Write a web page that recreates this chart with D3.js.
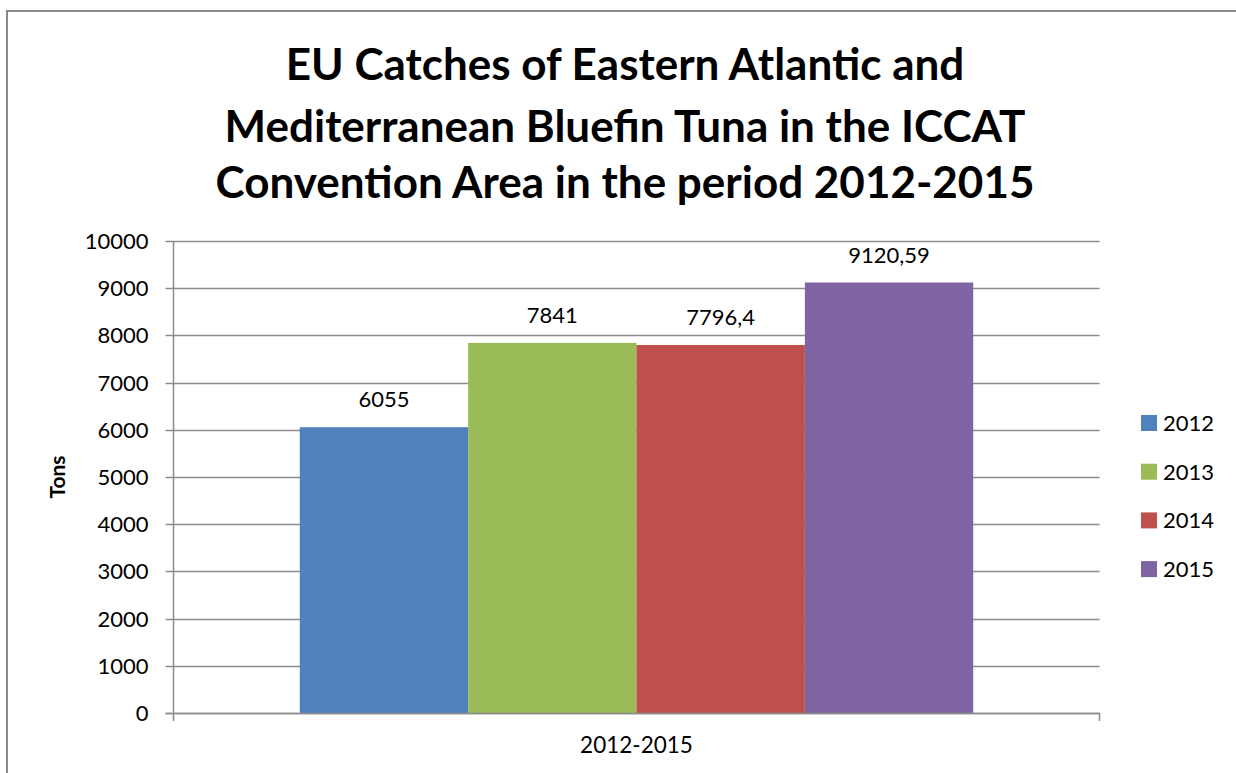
<!DOCTYPE html>
<html><head><meta charset="utf-8">
<script src="https://cdn.jsdelivr.net/npm/d3@7"></script>
<style>body{margin:0;background:#fff}svg{display:block}text{font-family:Lato,"Open Sans",sans-serif}</style>
</head><body><svg id="c" width="1236" height="773"></svg>
<script>
const categories = ["2012-2015"];
const seriesNames = ["2012", "2013", "2014", "2015"];
const seriesValues = [6055, 7841, 7796.4, 9120.59];
const valueLabels = ["6055", "7841", "7796,4", "9120,59"];
const seriesColors = ["#4F81BD", "#9BBB59", "#C0504D", "#8064A2"];
const yTicks = [0,1000,2000,3000,4000,5000,6000,7000,8000,9000,10000];
const titleLines = ["EU Catches of Eastern Atlantic and","Mediterranean Bluefin Tuna in the ICCAT","Convention Area in the period 2012-2015"];

const svg = d3.select("#c");
// outer border
svg.append("rect").attr("x",7).attr("y",11).attr("width",1236).attr("height",800)
  .attr("fill","none").attr("stroke","#8a8a8a").attr("stroke-width",2);

const L=173.5, R=1099.5, T=241, B=713;
const y = d3.scaleLinear().domain([0,10000]).range([B,T]);
const x0 = d3.scaleBand().domain(categories).range([L,R]).paddingInner(0).paddingOuter(0);
const x1 = d3.scaleBand().domain(seriesNames).range([0,x0.bandwidth()]).paddingOuter(0.75).paddingInner(0);

// gridlines
const g = svg.append("g");
g.selectAll("line.grid").data(yTicks).join("line")
  .attr("x1",L-8).attr("x2",R).attr("y1",d=>Math.round(y(d))+0.5).attr("y2",d=>Math.round(y(d))+0.5)
  .attr("stroke","#8c8c8c").attr("stroke-width",1.5);
// y axis line
svg.append("line").attr("x1",L).attr("x2",L).attr("y1",T).attr("y2",B+8).attr("stroke","#8c8c8c").attr("stroke-width",1.5);
svg.append("line").attr("x1",R).attr("x2",R).attr("y1",B).attr("y2",B+8).attr("stroke","#8c8c8c").attr("stroke-width",1.5);

// y tick labels
svg.selectAll("text.yt").data(yTicks).join("text")
  .attr("x",L-25).attr("y",d=>y(d)).attr("dy","0.36em").attr("text-anchor","end")
  .attr("font-size",22).attr("fill","#000").text(d=>d);

// bars
const bars = svg.append("g").attr("transform",`translate(${x0(categories[0])},0)`);
bars.selectAll("rect").data(seriesValues).join("rect")
  .attr("x",(d,i)=>x1(seriesNames[i])).attr("width",x1.bandwidth())
  .attr("y",d=>y(d)).attr("height",d=>B-y(d)).attr("fill",(d,i)=>seriesColors[i]);
bars.selectAll("text").data(seriesValues).join("text")
  .attr("x",(d,i)=>x1(seriesNames[i])+x1.bandwidth()/2).attr("y",d=>y(d)-20)
  .attr("text-anchor","middle").attr("font-size",22).attr("fill","#000")
  .text((d,i)=>valueLabels[i]);

// redraw baseline over bars
svg.append("line").attr("x1",L-8).attr("x2",R).attr("y1",B+0.5).attr("y2",B+0.5).attr("stroke","#8c8c8c").attr("stroke-width",1.5);

// category label
svg.append("text").attr("x",x0(categories[0])+x0.bandwidth()/2).attr("y",753).attr("text-anchor","middle")
  .attr("font-size",22.5).text(categories[0]);

// y title
svg.append("text").attr("transform","translate(65,477) rotate(-90)").attr("text-anchor","middle")
  .attr("font-size",21).attr("font-weight","bold").text("Tons");

// title
const titleY=[80,142,198];
titleLines.forEach((t,i)=>{
  svg.append("text").attr("x",625).attr("y",titleY[i]).attr("text-anchor","middle")
    .attr("font-size",44).attr("font-weight","bold").text(t);
});

// legend
const leg = svg.append("g");
seriesNames.forEach((n,i)=>{
  const ly = 423 + i*48.7;
  leg.append("rect").attr("x",1141).attr("y",ly-8).attr("width",16).attr("height",16).attr("fill",seriesColors[i]);
  leg.append("text").attr("x",1163).attr("y",ly).attr("dy","0.36em").attr("font-size",22).text(n);
});
</script></body></html>
